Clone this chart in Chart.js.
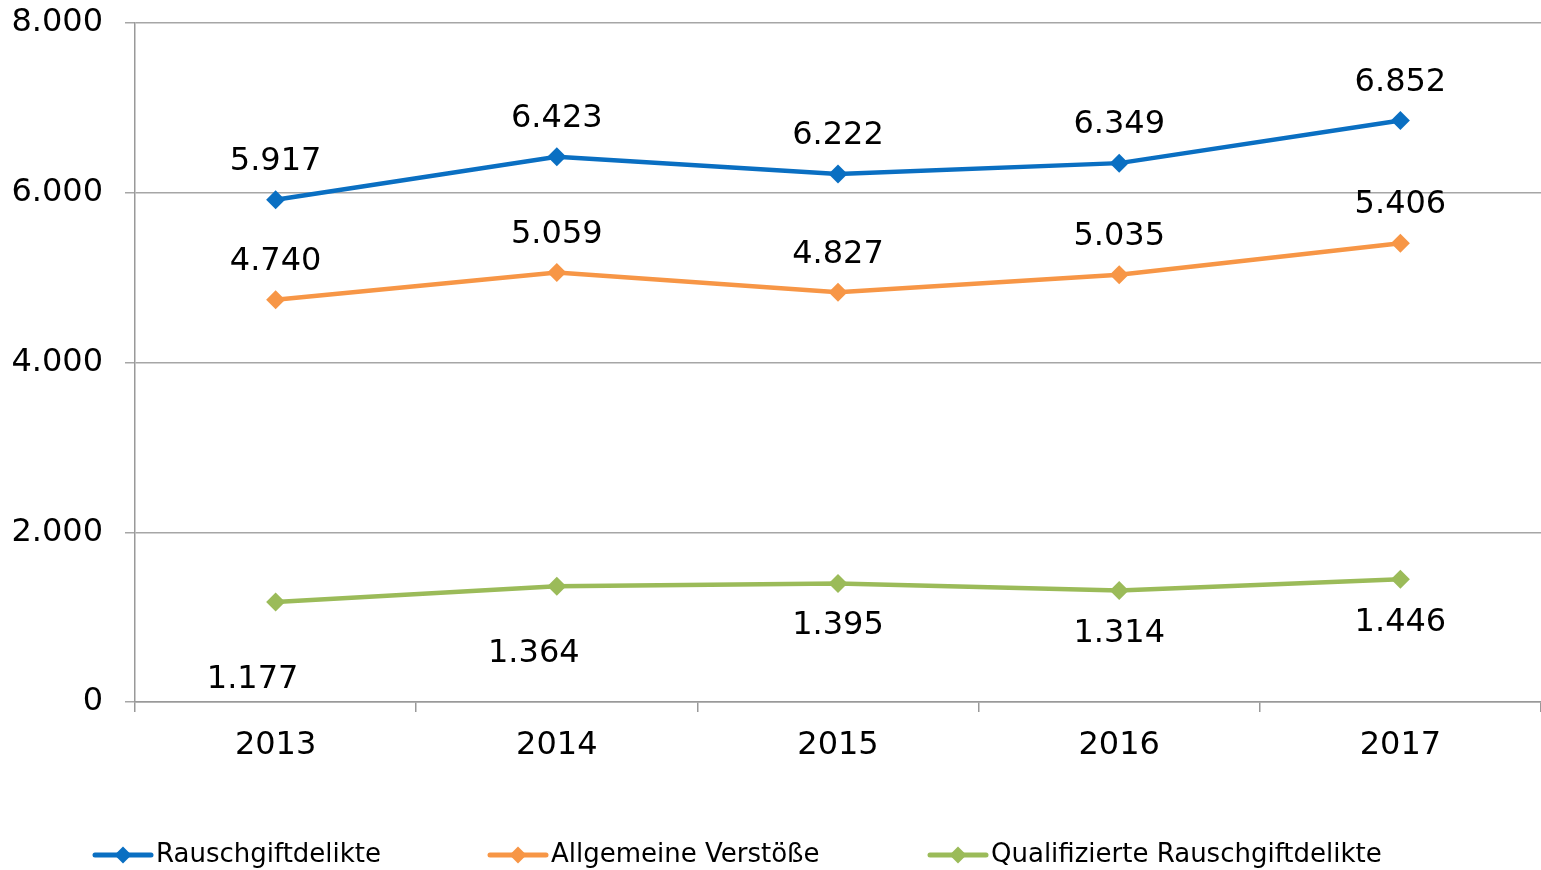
<!DOCTYPE html>
<html>
<head>
<meta charset="utf-8">
<script src="https://cdn.jsdelivr.net/npm/chart.js@4"></script>
<style>
  html, body { margin: 0; padding: 0; background: #fff; }
  #wrap { width: 1541px; height: 870px; position: relative; }
</style>
</head>
<body>
<div id="wrap"><canvas id="chart" width="1541" height="870"></canvas></div>
<script>
const years = ['2013', '2014', '2015', '2016', '2017'];
const rauschgift = [5917, 6423, 6222, 6349, 6852];
const allgemein = [4740, 5059, 4827, 5035, 5406];
const qualifiziert = [1177, 1364, 1395, 1314, 1446];
const seriesNames = ['Rauschgiftdelikte', 'Allgemeine Verstöße', 'Qualifizierte Rauschgiftdelikte'];
const yTicks = [0, 2000, 4000, 6000, 8000];

const FONT = '"DejaVu Sans", Verdana, sans-serif';
const fmt = v => v.toLocaleString('de-DE');

// label placement per series: dy above (-) or below (+) the point, plus small nudges
const labelPlace = [
    { dy: -38, nudge: [[0,0],[0,0],[0,0],[0,0],[0,0]] },
    { dy: -38, nudge: [[0,0],[0,0],[0,0],[0,0],[0,0]] },
    { dy: 43, nudge: [[-23,35],[-23,24],[0,-1],[0,0],[0,0]] }
];

const valueLabels = {
    id: 'valueLabels',
    afterDatasetsDraw(chart) {
        const ctx = chart.ctx;
        ctx.save();
        ctx.font = '32px ' + FONT;
        ctx.fillStyle = '#000';
        ctx.textAlign = 'center';
        ctx.textBaseline = 'middle';
        chart.data.datasets.forEach((ds, i) => {
            const meta = chart.getDatasetMeta(i);
            const p = labelPlace[i];
            meta.data.forEach((pt, j) => {
                ctx.fillText(fmt(ds.data[j]), pt.x + p.nudge[j][0], pt.y + p.dy + p.nudge[j][1]);
            });
        });
        ctx.restore();
    }
};

const lineLegend = {
    id: 'lineLegend',
    afterDraw(chart) {
        const ctx = chart.ctx;
        const starts = [95, 490, 930];
        const y = 855;
        ctx.save();
        ctx.font = '26px ' + FONT;
        ctx.textBaseline = 'middle';
        chart.data.datasets.forEach((ds, i) => {
            const x = starts[i];
            ctx.strokeStyle = ds.borderColor;
            ctx.lineWidth = 5;
            ctx.lineCap = 'round';
            ctx.beginPath();
            ctx.moveTo(x, y); ctx.lineTo(x + 56, y);
            ctx.stroke();
            ctx.fillStyle = ds.borderColor;
            ctx.beginPath();
            ctx.moveTo(x + 28, y - 8.5); ctx.lineTo(x + 36.5, y); ctx.lineTo(x + 28, y + 8.5); ctx.lineTo(x + 19.5, y);
            ctx.closePath(); ctx.fill();
            ctx.fillStyle = '#000';
            ctx.fillText(ds.label, x + 61, y);
        });
        ctx.restore();
    }
};

const mkSet = (label, data, color) => ({
    label, data,
    borderColor: color, backgroundColor: color,
    borderWidth: 4.5,
    pointStyle: 'rectRot', pointRadius: 9.5, pointHoverRadius: 9.5,
    pointBorderWidth: 0,
    tension: 0
});

new Chart(document.getElementById('chart'), {
    type: 'line',
    data: {
        labels: years,
        datasets: [
            mkSet(seriesNames[0], rauschgift, '#0A6FC2'),
            mkSet(seriesNames[1], allgemein, '#F79646'),
            mkSet(seriesNames[2], qualifiziert, '#9BBB59')
        ]
    },
    options: {
        responsive: false,
        animation: false,
        devicePixelRatio: 1,
        layout: { autoPadding: false, padding: { top: 23, right: 0, left: 0, bottom: 0 } },
        plugins: { legend: { display: false }, tooltip: { enabled: false } },
        scales: {
            x: {
                offset: true,
                grid: { offset: true, drawOnChartArea: false, drawTicks: true, tickLength: 10, color: '#999', lineWidth: 1.5 },
                border: { color: '#999', width: 1.5 },
                ticks: { font: { family: FONT, size: 32 }, color: '#000', padding: 14, maxRotation: 0 },
                afterFit(scale) { scale.height = 168; scale.paddingLeft = 0; scale.paddingRight = 0; }
            },
            y: {
                min: 0, max: 8000,
                afterBuildTicks(scale) { scale.ticks = yTicks.map(v => ({ value: v })); },
                grid: { color: '#a6a6a6', lineWidth: 1.5, tickLength: 10 },
                border: { color: '#999', width: 1.5 },
                ticks: { font: { family: FONT, size: 32 }, color: '#000', padding: 22, callback: v => fmt(v) },
                afterFit(scale) { scale.width = 135; scale.paddingTop = 0; scale.paddingBottom = 0; }
            }
        }
    },
    plugins: [valueLabels, lineLegend]
});
</script>
</body>
</html>
